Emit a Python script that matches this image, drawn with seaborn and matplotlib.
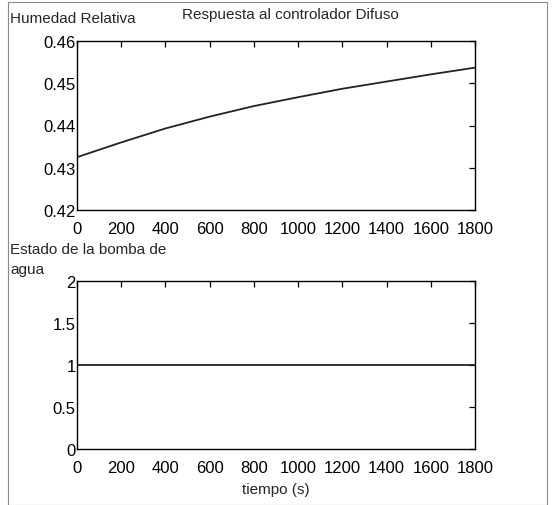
import matplotlib
matplotlib.use("Agg")
import matplotlib.pyplot as plt
import seaborn as sns
import pandas as pd
from matplotlib.patches import Rectangle

# data
tiempo = [0, 200, 400, 600, 800, 1000, 1200, 1400, 1600, 1800]
humedad = [0.4325, 0.4360, 0.4393, 0.4421, 0.4446, 0.4467, 0.4487, 0.4504, 0.4521, 0.4537]
bomba = [1, 1, 1, 1, 1, 1, 1, 1, 1, 1]

xticks = [0, 200, 400, 600, 800, 1000, 1200, 1400, 1600, 1800]
yticks_top = [0.42, 0.43, 0.44, 0.45, 0.46]
yticks_bot = [0, 0.5, 1, 1.5, 2]
ylabels_bot = ["0", "0.5", "1", "1.5", "2"]

df = pd.DataFrame({"tiempo": tiempo, "humedad": humedad, "bomba": bomba})

sns.set_theme(style="white")
plt.rcParams["font.family"] = ["Liberation Sans", "DejaVu Sans"]
plt.rcParams["axes.edgecolor"] = "black"
plt.rcParams["axes.linewidth"] = 1.0

fig = plt.figure(figsize=(5.55, 5.06), dpi=100)
ax1 = fig.add_axes([77/555, 1-211/506, (475-77)/555, (211-42)/506])
ax2 = fig.add_axes([77/555, 1-450/506, (475-77)/555, (450-282)/506])

sns.lineplot(x="tiempo", y="humedad", data=df, ax=ax1, color="#222222", lw=1.3)
sns.lineplot(x="tiempo", y="bomba", data=df, ax=ax2, color="#222222", lw=1.3)

for ax in (ax1, ax2):
    ax.set_xlim(0, 1800)
    ax.set_xticks(xticks)
    ax.set_xticklabels([str(t) for t in xticks])
    ax.tick_params(direction="in", top=True, right=True, length=4, width=0.9,
                   labelsize=12, colors="black")
    ax.tick_params(axis="x", pad=8)
    ax.tick_params(axis="y", pad=1)
    ax.set_xlabel("")
    ax.set_ylabel("")
    for s in ax.spines.values():
        s.set_color("black")

ax1.set_ylim(0.42, 0.46)
ax1.set_yticks(yticks_top)
ax1.set_yticklabels([f"{v:.2f}" for v in yticks_top])
ax2.set_ylim(0, 2)
ax2.set_yticks(yticks_bot)
ax2.set_yticklabels(ylabels_bot)

fig.text(10/555, 1-19/506, "Humedad Relativa", fontsize=11, va="center", ha="left")
fig.text(290/555, 1-15/506, "Respuesta al controlador Difuso", fontsize=11, va="center", ha="center")
fig.text(10/555, 1-250/506, "Estado de la bomba de", fontsize=11, va="center", ha="left")
fig.text(10/555, 1-270/506, "agua", fontsize=11, va="center", ha="left")
ax2.set_xlabel("tiempo (s)", fontsize=11, labelpad=5)

# border of the scanned page
fig.patches.append(Rectangle((8/555, 0), 1 - 16/555, 1 - 3/506, transform=fig.transFigure,
                             fill=False, edgecolor="#888888", lw=0.8))

fig.savefig("out.png", dpi=100)
